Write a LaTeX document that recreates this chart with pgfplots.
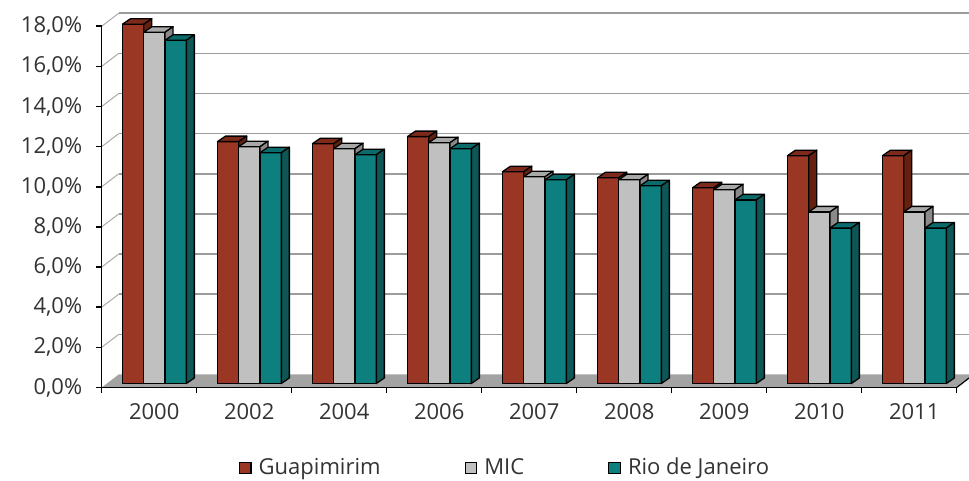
\documentclass[border=0pt]{standalone}
\usepackage{fontspec}
\setmainfont{Open Sans}
\usepackage{pgfplots}
\pgfplotsset{compat=1.18}
\usepackage{pgfplotstable}

\definecolor{cR}{HTML}{9A3624}
\definecolor{cRt}{HTML}{7E2A1A}
\definecolor{cRs}{HTML}{66200F}
\definecolor{cG}{HTML}{C0C0C0}
\definecolor{cGt}{HTML}{A8A8A8}
\definecolor{cGs}{HTML}{8A8A8A}
\definecolor{cT}{HTML}{0D7F7F}
\definecolor{cTt}{HTML}{0B6A6A}
\definecolor{cTs}{HTML}{0F5656}
\definecolor{gridc}{HTML}{9C9C9C}
\definecolor{diagc}{HTML}{ABABAB}
\definecolor{floorc}{HTML}{A3A3A3}
\definecolor{txt}{HTML}{333333}

\pgfplotstableread{
x g m r
0 17.9 17.5 17.1
1 12.05 11.8 11.5
2 11.95 11.7 11.4
3 12.3 12.0 11.7
4 10.55 10.3 10.15
5 10.25 10.15 9.85
6 9.75 9.65 9.15
7 11.35 8.55 7.75
8 11.35 8.55 7.75
}\data

\def\yu{20.07}
\def\bw{21.3}
\def\ddx{8}
\def\ddy{5.5}

\newcommand\facesthreed[4]{%
  \pgfmathsetmacro\hh{\barH*\yu}%
  \pgfmathsetmacro\xl{#1-\bw/2}%
  \pgfmathsetmacro\xr{#1+\bw/2}%
  \pgfmathsetmacro\xlb{\xl+\ddx}%
  \pgfmathsetmacro\xrb{\xr+\ddx}%
  \pgfmathsetmacro\yb{\ddy-\hh}%
  \filldraw[fill=#2,draw=black,line width=1.3pt,line join=round]
    (\xl pt,0pt) rectangle (\xr pt,-\hh pt);
  \filldraw[fill=#3,draw=black,line width=1.3pt,line join=round]
    (\xl pt,0pt) -- (\xr pt,0pt) -- (\xrb pt,\ddy pt) -- (\xlb pt,\ddy pt) -- cycle;
  \filldraw[fill=#4,draw=black,line width=1.3pt,line join=round]
    (\xr pt,0pt) -- (\xrb pt,\ddy pt) -- (\xrb pt,\yb pt) -- (\xr pt,-\hh pt) -- cycle;
}
\pgfdeclareplotmark{nothing}{}
\pgfplotsset{
  faces/.style n args={4}{scatter, only marks, mark=nothing, forget plot,
     point meta=y,
     visualization depends on={rawy \as \barH},
     scatter/@pre marker code/.code={\facesthreed{#1}{#2}{#3}{#4}},
     scatter/@post marker code/.code={}},
}

\begin{document}
\begin{tikzpicture}
\begin{axis}[at={(101.7pt,93.5pt)}, anchor=south west,
  x=95pt, y=20.07pt,
  xmin=-0.5, xmax=8.5, ymin=0, ymax=18,
  clip=false, axis on top,
  axis x line*=bottom, axis y line*=left,
  axis line style={black, line width=1.5pt},
  tick pos=left,
  xtick={-0.5,0.5,...,8.5}, x tick label as interval,
  xticklabels={2000,2002,2004,2006,2007,2008,2009,2010,2011},
  ytick={0,2,...,18},
  yticklabel={\pgfmathprintnumber[fixed,fixed zerofill,precision=1,use comma]{\tick}\%},
  /pgf/number format/assume math mode=true,
  tick align=outside, major tick length=6pt,
  tick style={black, line width=1.5pt},
  tick label style={font=\fontsize{22}{26}\selectfont, text=txt},
  yticklabel style={xshift=-10pt},
  xticklabel style={yshift=-7pt, xshift=5pt},
  legend columns=3,
  legend cell align=left,
  legend style={at={(0.4717,-0.221)}, anchor=center, draw=none, fill=none,
    font=\fontsize{22}{26}\selectfont, text=txt,
    /tikz/every even column/.append style={column sep=82pt}},
  legend image code/.code={\draw[#1, line width=1.2pt] (0pt,-6pt) rectangle (11.5pt,5pt); \path (17pt,0pt);},
]
% floor
\fill[floorc] (axis cs:-0.5,0) -- (axis cs:8.5,0) -- ([xshift=17pt,yshift=13pt]axis cs:8.5,0) -- ([xshift=17pt,yshift=13pt]axis cs:-0.5,0) -- cycle;
\draw[black, line width=1.2pt] (axis cs:8.5,0) -- ([xshift=17pt,yshift=13pt]axis cs:8.5,0);
% back wall gridlines
\pgfplotsinvokeforeach{2,4,...,18}{
  \draw[diagc, line width=1pt] (axis cs:-0.5,#1) -- ([xshift=17pt,yshift=13pt]axis cs:-0.5,#1);
  \draw[gridc, line width=1.6pt] ([xshift=17pt,yshift=13pt]axis cs:-0.5,#1) -- ([xshift=17pt,yshift=13pt]axis cs:8.6,#1);
}
\addlegendimage{fill=cR, draw=black}
\addlegendentry{Guapimirim}
\addlegendimage{fill=cG, draw=black}
\addlegendentry{MIC}
\addlegendimage{fill=cT, draw=black}
\addlegendentry{Rio de Janeiro}
\end{axis}

\begin{axis}[at={(106.9pt,97.5pt)}, anchor=south west,
  x=95pt, y=20.07pt,
  xmin=-0.5, xmax=8.5, ymin=0, ymax=18,
  hide axis, clip=false]
\addplot[ybar, bar width=21.3pt, bar shift=-21.3pt, fill=cR, draw=black, line width=1.3pt] table[x=x,y=g]{\data};
\addplot[ybar, bar width=21.3pt, bar shift=0pt, fill=cG, draw=black, line width=1.3pt] table[x=x,y=m]{\data};
\addplot[ybar, bar width=21.3pt, bar shift=21.3pt, fill=cT, draw=black, line width=1.3pt] table[x=x,y=r]{\data};
\addplot[faces={-21.3}{cR}{cRt}{cRs}] table[x=x,y=g]{\data};
\addplot[faces={0}{cG}{cGt}{cGs}] table[x=x,y=m]{\data};
\addplot[faces={21.3}{cT}{cTt}{cTs}] table[x=x,y=r]{\data};
\end{axis}
\pgfresetboundingbox
\path (0,0) rectangle (969pt,481pt);
\end{tikzpicture}
\end{document}
